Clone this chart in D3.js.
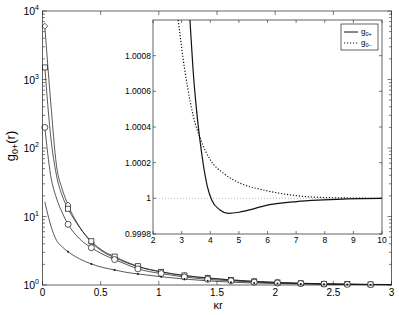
<!DOCTYPE html>
<html>
<head>
<meta charset="UTF-8">
<style>
  body { margin: 0; background: white; }
  svg text { font-family: "Liberation Sans", Arial, sans-serif; fill: black; }
</style>
<script src="https://cdn.jsdelivr.net/npm/d3@7"></script>
</head>
<body>
<div id="chart"></div>
<script>
// main panel: g0+(r) vs kappa r, four curves
const kr = [0.02, 0.07, 0.12, 0.17, 0.22, 0.32, 0.42, 0.52, 0.62, 0.72, 0.82, 1.02, 1.22, 1.42, 1.62, 1.82, 2.02, 2.22, 2.42, 2.62, 2.82, 3.0];
const markerKr = [0.02, 0.22, 0.42, 0.62, 0.82, 1.02, 1.22, 1.42, 1.62, 1.82, 2.02, 2.22, 2.42, 2.62, 2.82];
const gDiamond = [6000, 480, 56, 25, 14.7, 7.0, 4.2, 3.05, 2.5, 2.12, 1.85, 1.55, 1.37, 1.26, 1.18, 1.13, 1.09, 1.06, 1.04, 1.03, 1.02, 1.015];
const gSquare = [1500, 150, 40, 20, 13.0, 6.9, 4.35, 3.15, 2.6, 2.18, 1.88, 1.56, 1.38, 1.27, 1.19, 1.13, 1.09, 1.06, 1.04, 1.03, 1.02, 1.015];
const gCircle = [200, 40, 18.6, 11.3, 7.7, 4.7, 3.5, 2.8, 2.35, 2.0, 1.72, 1.47, 1.31, 1.21, 1.15, 1.1, 1.07, 1.05, 1.03, 1.02, 1.015, 1.01];
const gDot = [16.4, 7.5, 4.5, 3.6, 3.06, 2.4, 2.03, 1.8, 1.66, 1.53, 1.45, 1.32, 1.22, 1.15, 1.1, 1.07, 1.05, 1.035, 1.025, 1.018, 1.012, 1.01];
const xTicks = [0, 0.5, 1, 1.5, 2, 2.5, 3];
const yTicks = [1, 10, 100, 1000, 10000];

// inset: zoom near 1
const krPlus = [3.29, 3.4, 3.55, 3.7, 3.9, 4.05, 4.34, 4.63, 5.0, 5.27, 6.03, 7.02, 7.95, 8.8, 10];
const gPlus = [1.001, 1.00072, 1.00045, 1.000253, 1.0000657, 0.999991, 0.999935, 0.999916, 0.999922, 0.999931, 0.999963, 0.999982, 0.999991, 0.999997, 1.0];
const krMinus = [2.88, 3.1, 3.2, 3.41, 3.67, 4.0, 4.46, 5.04, 5.85, 6.55, 7.72, 8.8, 10];
const gMinus = [1.001, 1.00073, 1.00063, 1.00046, 1.000328, 1.000216, 1.000141, 1.000085, 1.000047, 1.000025, 1.000006, 1.000002, 1.0];
const insetXTicks = [2, 3, 4, 5, 6, 7, 8, 9, 10];
const insetYTicks = [0.9998, 1, 1.0002, 1.0004, 1.0006, 1.0008];
const insetYLabels = ["0.9998", "1", "1.0002", "1.0004", "1.0006", "1.0008"];

const w = 399, h = 315;
const svg = d3.select('#chart').append('svg').attr('width', w).attr('height', h);

// ---- main axes ----
const x = d3.scaleLinear().domain([0, 3]).range([42.5, 391.5]);
const y = d3.scaleLog().domain([1, 10000]).range([285, 11]);

const main = svg.append('g');
main.append('rect')
  .attr('x', x(0)).attr('y', y(10000))
  .attr('width', x(3) - x(0)).attr('height', y(1) - y(10000))
  .attr('fill', 'white');

// minor log ticks, both sides
const minor = [];
for (let d = 1; d < 10000; d *= 10) for (let k = 2; k <= 9; k++) minor.push(d * k);
[x(0), x(3)].forEach((px, side) => {
  main.selectAll(null).data(minor).enter().append('line')
    .attr('x1', px).attr('x2', side ? px - 2.5 : px + 2.5)
    .attr('y1', d => y(d)).attr('y2', d => y(d))
    .attr('stroke', '#222').attr('stroke-width', 0.6);
  main.selectAll(null).data(yTicks).enter().append('line')
    .attr('x1', px).attr('x2', side ? px - 4 : px + 4)
    .attr('y1', d => y(d)).attr('y2', d => y(d))
    .attr('stroke', '#222').attr('stroke-width', 0.6);
});
[y(1), y(10000)].forEach((py, side) => {
  main.selectAll(null).data(xTicks).enter().append('line')
    .attr('x1', d => x(d)).attr('x2', d => x(d))
    .attr('y1', py).attr('y2', side ? py + 4 : py - 4)
    .attr('stroke', '#222').attr('stroke-width', 0.6);
});

const curveData = [gDiamond, gSquare, gCircle, gDot];
const line = d3.line().x(d => x(d[0])).y(d => y(d[1])).curve(d3.curveMonotoneX);
curveData.forEach(vals => {
  main.append('path')
    .attr('d', line(kr.map((k, i) => [k, vals[i]])))
    .attr('fill', 'none').attr('stroke', '#111').attr('stroke-width', 0.7);
});

function markerPts(vals) {
  return markerKr.map(k => [k, vals[kr.indexOf(k)]]);
}
// diamonds
main.selectAll(null).data(markerPts(gDiamond)).enter().append('path')
  .attr('d', d3.symbol(d3.symbolDiamond2, 22)())
  .attr('transform', d => `translate(${x(d[0])},${y(d[1])})`)
  .attr('fill', 'white').attr('stroke', '#111').attr('stroke-width', 0.7);
// squares
main.selectAll(null).data(markerPts(gSquare)).enter().append('rect')
  .attr('x', d => x(d[0]) - 2.5).attr('y', d => y(d[1]) - 2.5)
  .attr('width', 5).attr('height', 5)
  .attr('fill', 'white').attr('stroke', '#111').attr('stroke-width', 0.7);
// circles
main.selectAll(null).data(markerPts(gCircle)).enter().append('circle')
  .attr('cx', d => x(d[0])).attr('cy', d => y(d[1])).attr('r', 3)
  .attr('fill', 'white').attr('stroke', '#111').attr('stroke-width', 0.7);
// dots
main.selectAll(null).data(markerPts(gDot).slice(1)).enter().append('circle')
  .attr('cx', d => x(d[0])).attr('cy', d => y(d[1])).attr('r', 1)
  .attr('fill', '#111');

main.append('rect')
  .attr('x', x(0)).attr('y', y(10000))
  .attr('width', x(3) - x(0)).attr('height', y(1) - y(10000))
  .attr('fill', 'none').attr('stroke', '#222').attr('stroke-width', 0.7);

// tick labels
main.selectAll(null).data(xTicks).enter().append('text')
  .attr('x', d => x(d)).attr('y', 296)
  .attr('text-anchor', 'middle').attr('font-size', 10)
  .text(d => d);
const yLab = main.selectAll(null).data(yTicks).enter().append('text')
  .attr('x', 39).attr('y', d => y(d) + 4)
  .attr('text-anchor', 'end').attr('font-size', 10.5);
yLab.append('tspan').text('10');
yLab.append('tspan').attr('dy', -5).attr('font-size', 7).text(d => Math.round(Math.log10(d)));

svg.append('text').attr('x', 218).attr('y', 309)
  .attr('text-anchor', 'middle').attr('font-size', 11).text('κr');

const yTitle = svg.append('text')
  .attr('transform', 'translate(15,146) rotate(-90)')
  .attr('text-anchor', 'middle').attr('font-size', 13);
yTitle.append('tspan').text('g');
yTitle.append('tspan').attr('dy', 3).attr('font-size', 9).text('0+');
yTitle.append('tspan').attr('dy', -3).text('(r)');

// ---- inset ----
const xi = d3.scaleLinear().domain([2, 10]).range([153, 382]);
const yi = d3.scaleLinear().domain([0.9998, 1.001]).range([234, 20]);
const inset = svg.append('g');
inset.append('rect')
  .attr('x', xi(2)).attr('y', yi(1.001))
  .attr('width', xi(10) - xi(2)).attr('height', yi(0.9998) - yi(1.001))
  .attr('fill', 'white');

inset.append('clipPath').attr('id', 'insetClip').append('rect')
  .attr('x', xi(2)).attr('y', yi(1.001))
  .attr('width', xi(10) - xi(2)).attr('height', yi(0.9998) - yi(1.001));

[yi(0.9998), yi(1.001)].forEach((py, side) => {
  inset.selectAll(null).data(insetXTicks).enter().append('line')
    .attr('x1', d => xi(d)).attr('x2', d => xi(d))
    .attr('y1', py).attr('y2', side ? py + 3 : py - 3)
    .attr('stroke', '#222').attr('stroke-width', 0.6);
});
[xi(2), xi(10)].forEach((px, side) => {
  inset.selectAll(null).data(insetYTicks).enter().append('line')
    .attr('x1', px).attr('x2', side ? px - 3 : px + 3)
    .attr('y1', d => yi(d)).attr('y2', d => yi(d))
    .attr('stroke', '#222').attr('stroke-width', 0.6);
});

inset.append('line')
  .attr('x1', xi(2)).attr('x2', xi(10)).attr('y1', yi(1)).attr('y2', yi(1))
  .attr('stroke', '#aaa').attr('stroke-width', 0.8).attr('stroke-dasharray', '1,2');

const lineI = d3.line().x(d => xi(d[0])).y(d => yi(d[1])).curve(d3.curveMonotoneX);
const curves = inset.append('g').attr('clip-path', 'url(#insetClip)');
curves.append('path')
  .attr('d', lineI(krMinus.map((k, i) => [k, gMinus[i]])))
  .attr('fill', 'none').attr('stroke', '#111').attr('stroke-width', 1.2)
  .attr('stroke-dasharray', '1.2,1.8');
curves.append('path')
  .attr('d', lineI(krPlus.map((k, i) => [k, gPlus[i]])))
  .attr('fill', 'none').attr('stroke', '#111').attr('stroke-width', 1.2);

inset.append('rect')
  .attr('x', xi(2)).attr('y', yi(1.001))
  .attr('width', xi(10) - xi(2)).attr('height', yi(0.9998) - yi(1.001))
  .attr('fill', 'none').attr('stroke', '#222').attr('stroke-width', 0.7);

inset.selectAll(null).data(insetXTicks).enter().append('text')
  .attr('x', d => xi(d)).attr('y', 243)
  .attr('text-anchor', 'middle').attr('font-size', 8.5)
  .text(d => d);
inset.selectAll(null).data(insetYTicks).enter().append('text')
  .attr('x', 151).attr('y', d => yi(d) + 3)
  .attr('text-anchor', 'end').attr('font-size', 8.5)
  .text((d, i) => insetYLabels[i]);

// legend
const lg = inset.append('g').attr('transform', 'translate(341,24)');
lg.append('rect').attr('width', 37).attr('height', 26)
  .attr('fill', 'white').attr('stroke', '#222').attr('stroke-width', 0.7);
const legendItems = [{name: '0+', dash: null, y: 8}, {name: '0−', dash: '1.2,1.8', y: 19}];
legendItems.forEach(it => {
  lg.append('line').attr('x1', 3).attr('x2', 17).attr('y1', it.y).attr('y2', it.y)
    .attr('stroke', '#111').attr('stroke-width', 1).attr('stroke-dasharray', it.dash);
  const t = lg.append('text').attr('x', 20).attr('y', it.y + 2).attr('font-size', 8);
  t.append('tspan').text('g');
  t.append('tspan').attr('dy', 2).attr('font-size', 5.5).text(it.name);
});
</script>
</body>
</html>
